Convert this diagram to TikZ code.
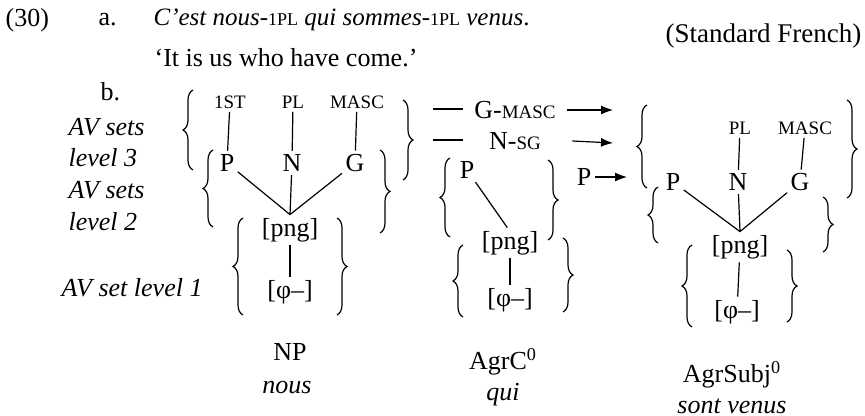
\documentclass[tikz,border=0pt]{standalone}
\usepackage{fontspec}
\setmainfont{Liberation Serif}
\usetikzlibrary{positioning, arrows.meta, decorations.pathreplacing}
\newcommand{\fsc}[1]{{\fontsize{9.5pt}{10pt}\selectfont #1}}

\begin{document}
\begin{tikzpicture}[x=0.5pt,y=-0.5pt,line width=0.6pt,
    >={Latex[length=6pt,width=4.5pt]},
    font=\fontsize{13pt}{15pt}\selectfont,
    every node/.style={inner sep=1.5pt},
    txt/.style={anchor=west,inner sep=0pt},
    lbl/.style={font=\fontsize{13pt}{15pt}\selectfont\itshape,anchor=west,inner sep=0pt},
    word/.style={font=\fontsize{13pt}{15pt}\selectfont\itshape},
    lb/.style={decorate,decoration={brace,amplitude=5pt}}]
\useasboundingbox (0,0) rectangle (865,416);

% example (30a)
\node[txt] (num) at (5,20) {(30)};
\node[txt] (ia) at (98,20) {a.};
\node[txt,font=\fontsize{12.5pt}{14pt}\selectfont] (sent) at (153,20)
  {\textit{C'est nous}-{\fontsize{9pt}{10pt}\selectfont 1PL} \textit{qui sommes}-{\fontsize{9pt}{10pt}\selectfont 1PL} \textit{venus}.};
\node[txt] (gloss) at (154,58) {`It is us who have come.'};
\node[anchor=east,inner sep=0pt,font=\fontsize{13.5pt}{16pt}\selectfont] (lang) at (862,36) {(Standard French)};
\node[txt] (ib) at (100,92) {b.};

% level labels
\node[lbl] (av3) at (68,127) {AV sets};
\node[lbl] (lv3) at (68,158) {level 3};
\node[lbl] (av2) at (68,190) {AV sets};
\node[lbl] (lv2) at (68,222) {level 2};
\node[lbl] (av1) at (61,288) {AV set level 1};

% NP
\node (np1) at (230,102) {\fsc{1ST}};
\node (np2) at (293,102) {\fsc{PL}};
\node (np3) at (357,102) {\fsc{MASC}};
\node (npP) at (227,163) {P};
\node (npN) at (292,163) {N};
\node (npG) at (355,163) {G};
\node (nppng) at (290,230) {[png]};
\node (npphi) at (290,292) {[φ–]};
\draw (np1) -- (npP) (np2) -- (npN) (np3) -- (npG);
\draw (npP) -- (nppng.north) -- (npG) (npN) -- (nppng.north);
\draw (nppng) -- (npphi);
\node (np) at (290,352) {NP};
\node[word] (nous) at (287,388) {nous};

% AgrC
\node (cP) at (467,170) {P};
\node (cpng) at (510,243) {[png]};
\node (cphi) at (510,300) {[φ–]};
\draw (cP) -- (cpng.100);
\draw (cpng) -- (cphi);
\node (agrc) at (503,362) {AgrC\textsuperscript{0}};
\node[word] (qui) at (503,395) {qui};

% AgrSubj
\node (s2) at (740,128) {\fsc{PL}};
\node (s3) at (805,128) {\fsc{MASC}};
\node (sP) at (673,182) {P};
\node (sN) at (738,182) {N};
\node (sG) at (800,182) {G};
\node (spng) at (740,247) {[png]};
\node (sphi) at (737,312) {[φ–]};
\draw (s2) -- (sN) (s3) -- (sG);
\draw (sP) -- (spng.north) -- (sG) (sN) -- (spng.north);
\draw (spng) -- (sphi);
\node (agrs) at (732,375) {AgrSubj\textsuperscript{0}};
\node[word] (venus) at (732,406) {sont venus};

% values passed on
\node (gm) at (515,110) {G-\fsc{MASC}};
\node (ns) at (515,141) {N-\fsc{SG}};
\node (pp) at (584,177) {P};
\coordinate (gd) at (433,109);  \coordinate (gt) at (613,110);
\coordinate (nd) at (433,140);  \coordinate (nt) at (613,143);
\coordinate (pt) at (627,177);
\draw (gd) -- +(30,0);
\draw (nd) -- +(30,0);
\draw[->] (gm.east) ++(8,0) -- (gt);
\draw[->] (ns.east) ++(28,0) -- (nt);
\draw[->] (pp) -- (pt);

% braces
\foreach \x/\ya/\yb in {193/90/170, 213/150/227, 243/218/315, 450/158/237,
    463/245/317, 647/105/188, 658/187/243, 692/245/327}
  \draw[lb] (\x,\yb) -- (\x,\ya);
\foreach \x/\ya/\yb in {403/100/180, 380/150/233, 337/218/315, 548/160/240,
    563/238/312, 847/100/198, 823/197/252, 787/250/322}
  \draw[lb] (\x,\ya) -- (\x,\yb);
\end{tikzpicture}
\end{document}
